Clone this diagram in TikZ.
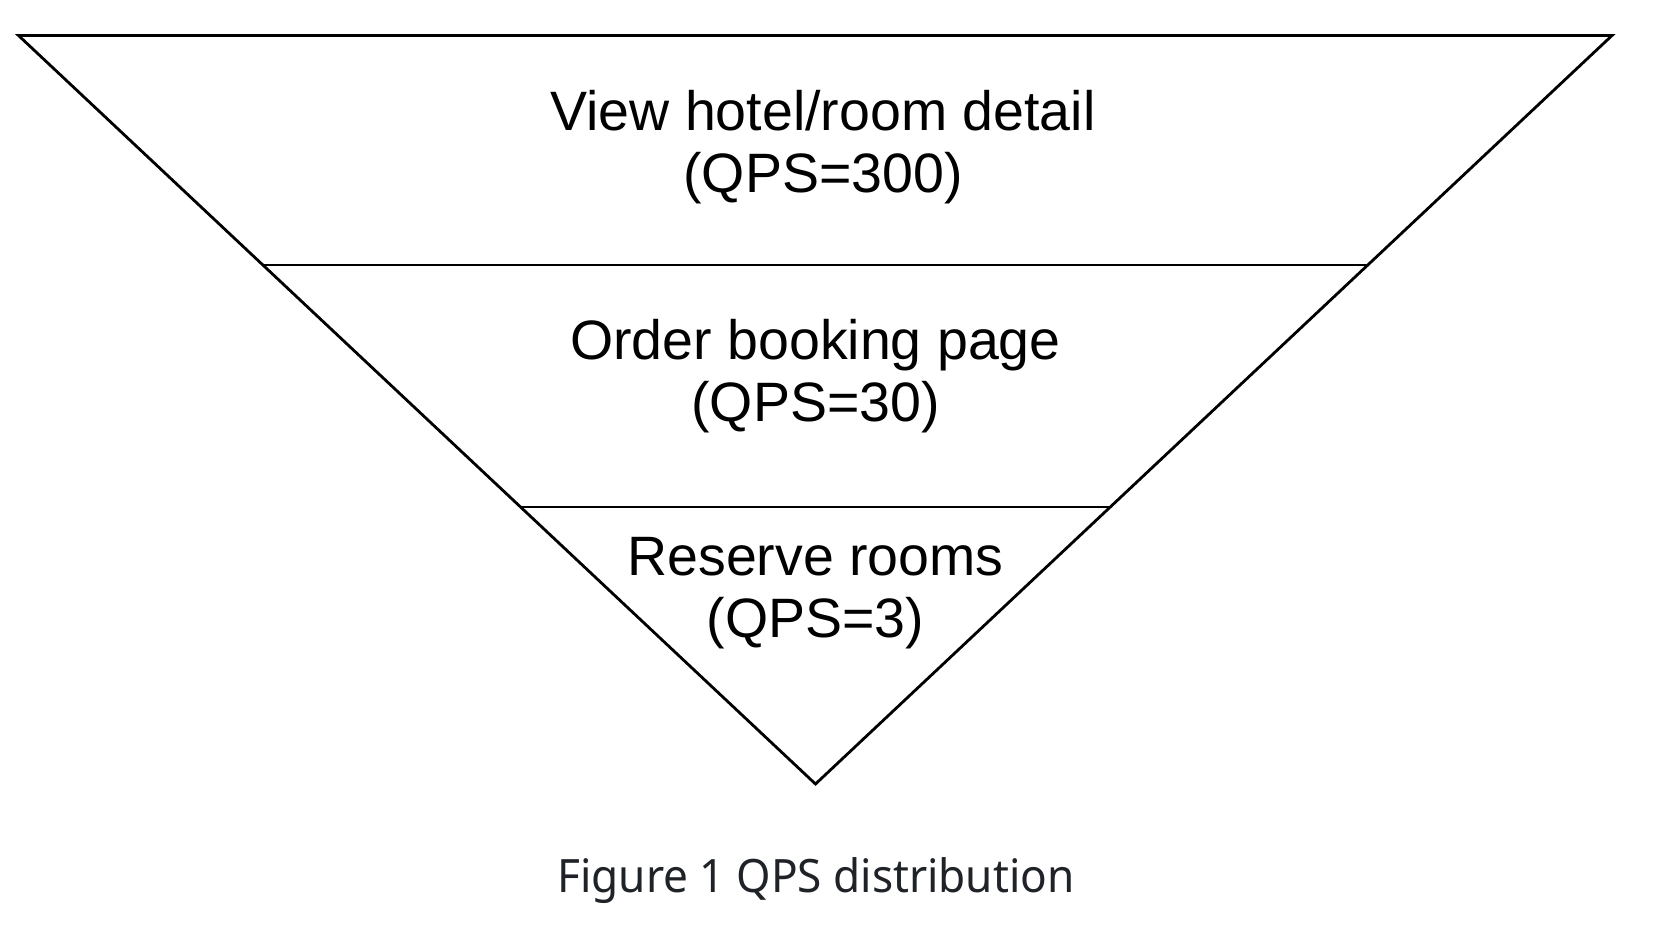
\documentclass[tikz,border=0pt]{standalone}
\usepackage{fontspec}
\setmainfont{Liberation Sans}
\newfontfamily\capfont[FakeStretch=0.96]{Noto Sans}
\usetikzlibrary{calc}
\definecolor{captiongray}{HTML}{1F2328}
\begin{document}
\begin{tikzpicture}[x=1pt,y=-1pt,
  funnelline/.style={draw=black,line width=2.8pt,line join=miter},
  divline/.style={draw=black,line width=2.6pt},
  stagetext/.style={anchor=base,inner sep=0pt,font=\fontsize{55.5}{62}\selectfont,text=black},
  captext/.style={anchor=base,inner sep=0pt,font=\capfont\fontsize{46}{54}\selectfont,text=captiongray}]
\useasboundingbox (0,0) rectangle (1672,924);
\fill[white] (0,0) rectangle (1672,924);
\coordinate (TL) at (18.5,35.5);
\coordinate (TR) at (1612,35.5);
\coordinate (AP) at (815.5,784);
\coordinate (D1L) at ($(TL)!0.3066!(AP)$);
\coordinate (D1R) at ($(TR)!0.3066!(AP)$);
\coordinate (D2L) at ($(TL)!0.6299!(AP)$);
\coordinate (D2R) at ($(TR)!0.6299!(AP)$);
\draw[funnelline] (TL) -- (TR) -- (AP) -- cycle;
\draw[divline] (D1L) -- (D1R);
\draw[divline] (D2L) -- (D2R);
\node[stagetext] (s1a) at (823,130) {View hotel/room detail};
\node[stagetext] (s1b) at (823,192) {(QPS=300)};
\node[stagetext] (s2a) at (815.5,359) {Order booking page};
\node[stagetext] (s2b) at (815.5,421) {(QPS=30)};
\node[stagetext] (s3a) at (815.5,575) {Reserve rooms};
\node[stagetext] (s3b) at (815.5,637) {(QPS=3)};
\node[captext] (cap) at (816,892) {Figure 1 QPS distribution};
\end{tikzpicture}
\end{document}
